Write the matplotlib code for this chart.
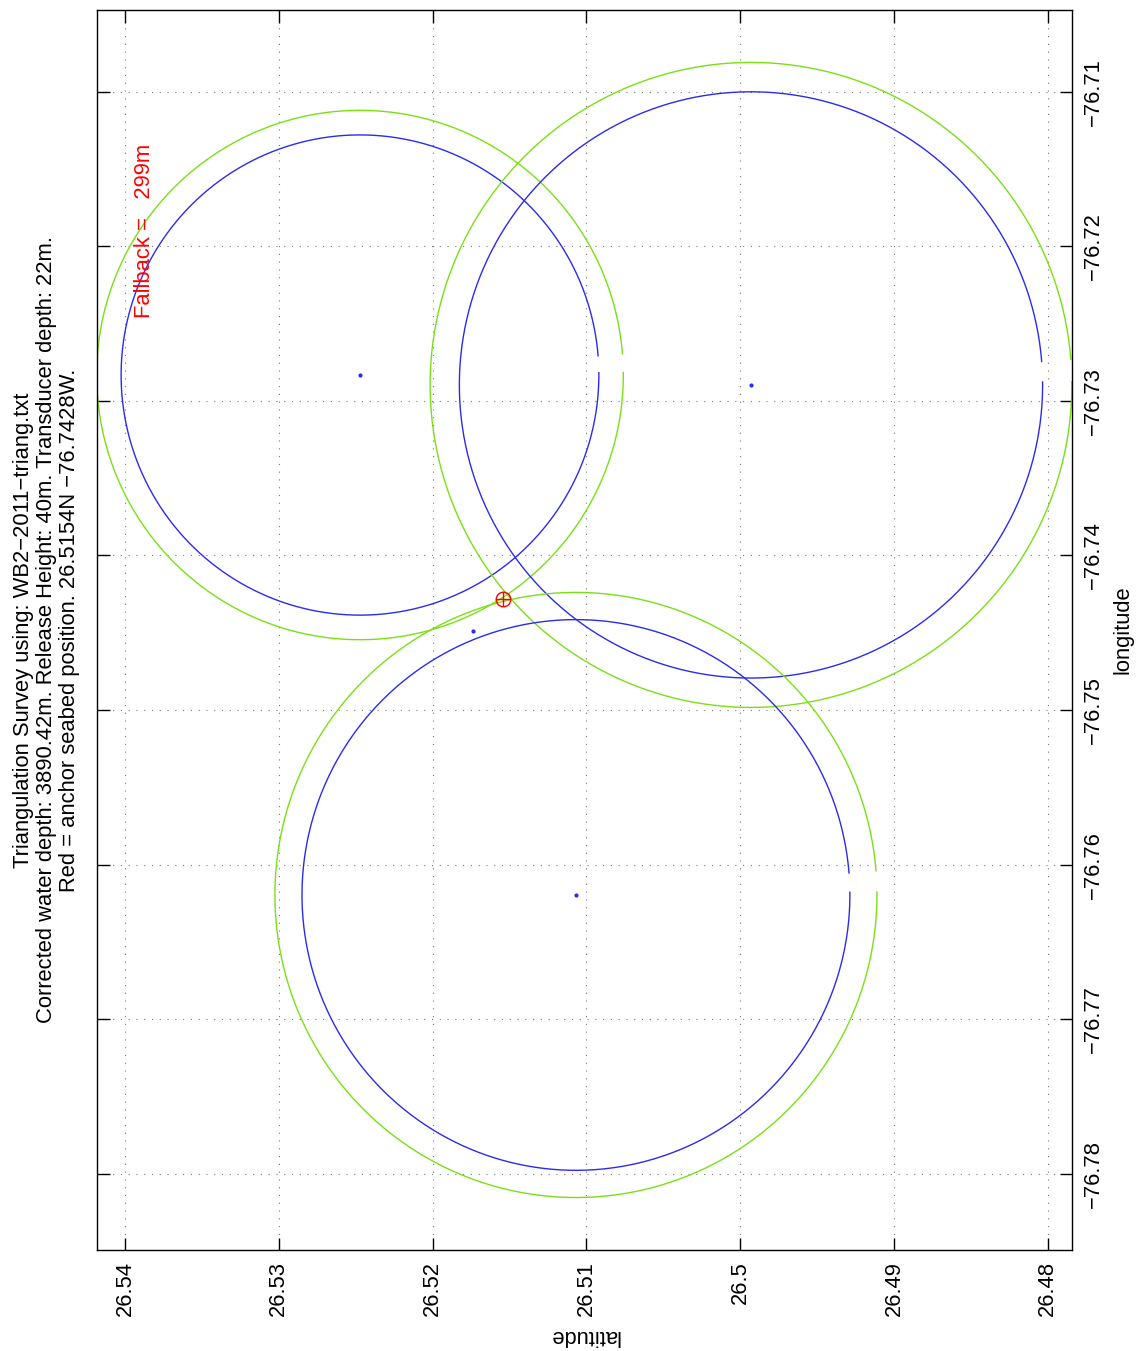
import numpy as np
import matplotlib
matplotlib.use('Agg')
import matplotlib.pyplot as plt

plt.rcParams['font.family'] = ['Liberation Sans', 'DejaVu Sans']

# Survey data (degrees)
station_lat = [26.52472, 26.49930, 26.51068]
station_lon = [-76.72833, -76.72897, -76.76196]
slant_radius = [0.01553, 0.01896, 0.01781]    # blue circles
horiz_radius = [0.01712, 0.02086, 0.01957]    # green circles
extra_lat = [26.51737]
extra_lon = [-76.74488]
anchor_lat = 26.5154
anchor_lon = -76.7428

lat_ticks = [26.54, 26.53, 26.52, 26.51, 26.50, 26.49, 26.48]
lat_labels = ['26.54', '26.53', '26.52', '26.51', '26.5', '26.49', '26.48']
lon_ticks = [-76.71, -76.72, -76.73, -76.74, -76.75, -76.76, -76.77, -76.78]
lon_labels = ['\u221276.71', '\u221276.72', '\u221276.73', '\u221276.74',
              '\u221276.75', '\u221276.76', '\u221276.77', '\u221276.78']

title_lines = [
    'Triangulation Survey using: WB2\u22122011\u2212triang.txt',
    'Corrected water depth: 3890.42m. Release Height: 40m. Transducer depth: 22m.',
    'Red = anchor seabed position. 26.5154N \u221276.7428W.',
]

BLUE = '#2b2bf0'
GREEN = '#7ae015'
FS = 15.8

# page is printed rotated: latitude runs along x (reversed), longitude along y
fig = plt.figure(figsize=(11.42, 13.51), dpi=100)
ax = fig.add_axes([0.0849, 0.0748, 0.8538, 0.9178])

t = np.linspace(0.08, 2 * np.pi + 0.01, 400)
for clat, clon, rb, rg in zip(station_lat, station_lon, slant_radius, horiz_radius):
    ax.plot(clat - rg * np.cos(t), clon + rg * np.sin(t), color=GREEN, lw=1.0)
    ax.plot(clat - rb * np.cos(t), clon + rb * np.sin(t), color=BLUE, lw=1.0)
    ax.plot(clat, clon, '.', color=BLUE, markersize=4)

ax.plot(extra_lat, extra_lon, '.', color=BLUE, markersize=4)
ax.plot(anchor_lat, anchor_lon, 'o', mfc='none', mec='red', markersize=10.5, mew=1.0)
ax.plot(anchor_lat, anchor_lon, '+', color='red', markersize=10.5, mew=1.0)

ax.text(26.5387, -76.72464, 'Fallback =   299m', color='red', fontsize=FS,
        rotation=90, ha='center', va='bottom')

ax.set_xlim(26.54182, 26.47843)
ax.set_ylim(-76.78492, -76.70472)

ax.set_xticks(lat_ticks)
ax.set_xticklabels(lat_labels, rotation=90, fontsize=FS)
ax.set_yticks(lon_ticks)
ax.set_yticklabels(lon_labels, rotation=90, fontsize=FS, va='center')
ax.tick_params(direction='in', length=9, width=1.0, top=True, bottom=True,
               left=True, right=True, labelleft=False, labelright=True, pad=8)

ax.grid(True, color='#777777', linestyle=(0, (1, 6)), linewidth=0.8)
for s in ax.spines.values():
    s.set_linewidth(1.0)

ax.set_ylabel('longitude', fontsize=FS, rotation=90, labelpad=6)
ax.yaxis.set_label_position('right')
ax.set_xlabel('latitude', fontsize=FS, rotation=180, labelpad=6)

fig.text(0.041, 0.5337, '\n'.join(title_lines), fontsize=FS, rotation=90,
         ha='center', va='center', multialignment='center', linespacing=1.12)

fig.savefig('out.png', dpi=100)
